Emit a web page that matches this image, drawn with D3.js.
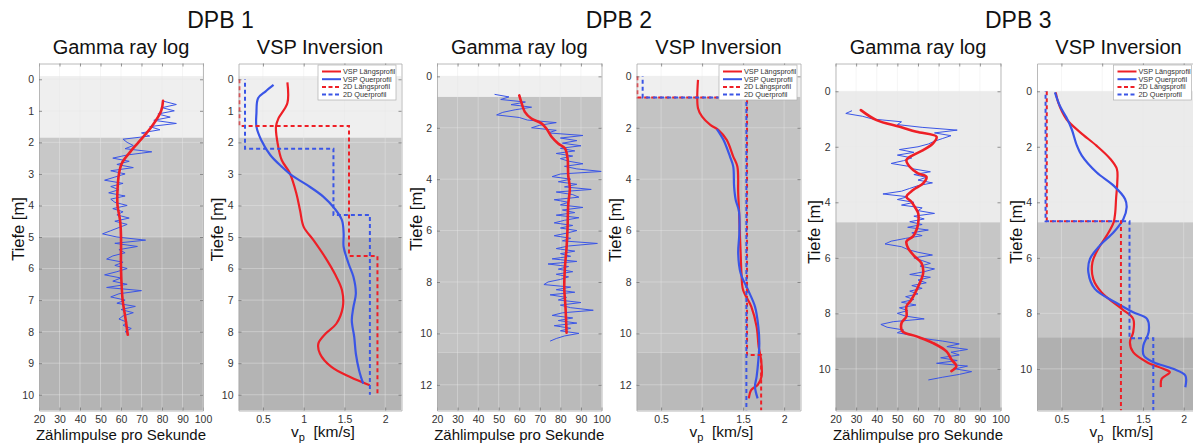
<!DOCTYPE html>
<html><head><meta charset="utf-8">
<script src="https://cdn.jsdelivr.net/npm/d3@7/dist/d3.min.js"></script>
<style>
html,body{margin:0;padding:0;background:#fff;}
svg{display:block;}
</style></head>
<body>
<svg id="chart" width="1193" height="443"></svg>
<script>
// ================= DATA =================
const wells = ["DPB 1", "DPB 2", "DPB 3"];
const panelTitles = ["Gamma ray log", "VSP Inversion"];
const gammaTicks = [20, 30, 40, 50, 60, 70, 80, 90, 100];
const vpTicks = [0.5, 1, 1.5, 2];
const depthTicks1 = [0, 1, 2, 3, 4, 5, 6, 7, 8, 9, 10];
const depthTicks2 = [0, 2, 4, 6, 8, 10, 12];
const depthTicks3 = [0, 2, 4, 6, 8, 10];
const legendLabels = ["VSP Längsprofil", "VSP Querprofil", "2D Längsprofil", "2D Querprofil"];
const gammaXLabel = "Zählimpulse pro Sekunde";
const depthLabel = "Tiefe [m]";

// layer boundaries (depth, m)
const layers1 = [-0.1, 1.85, 5.0, 10.5];
const layers2 = [0, 0.8, 10.75, 13];
const layers3 = [0, 4.72, 8.86, 11.5];

// gamma ray raw counts (blue), one sample every 0.1 m from the start depth
const gammaStart1 = 0.7;
const gammaRaw1 = [81,87,80,86,78,84,76,87,74,79,70,74,61,63,66,62,75,63,56,64,58,66,55,62,57,52,61,55,59,54,62,55,57,63,56,61,58,64,57,63,59,55,51,58,72,57,68,59,62,56,53,61,57,63,58,52,60,56,63,53,70,59,55,62,58,67,60,66,61,59,63,61,65,62,64];
const gammaStart2 = 0.7;
const gammaRaw2 = [48,55,51,63,56,66,58,52,49,60,64,78,70,66,78,74,91,80,88,81,90,80,87,78,86,80,84,91,82,88,100,80,76,85,79,88,82,95,78,86,89,77,84,80,91,81,87,78,89,82,77,86,80,88,83,77,85,81,98,84,78,87,80,85,76,88,74,84,79,86,78,84,80,74,72,85,78,87,75,83,79,90,80,85,96,81,76,86,79,88,77,85,80,89,82,78,75];
const gammaStart3 = 0.7;
const gammaRaw3 = [28,25,33,38,52,50,62,79,68,76,72,68,65,60,51,58,50,57,53,47,55,58,66,58,64,60,67,60,56,52,43,55,50,58,52,62,60,68,58,63,56,62,55,65,57,62,54,47,44,52,55,60,67,58,62,66,61,68,63,56,66,60,64,57,62,56,60,54,58,52,59,51,55,50,54,63,48,42,45,53,50,58,62,72,80,74,84,76,80,71,79,69,84,78,86,80,72,65];

// gamma ray smoothed (red): [depth, counts]
const gammaSmooth1 = [[0.68,80.5],[1.0,79.6],[1.5,75],[2.0,68.5],[2.3,64.5],[2.65,60.5],[3.0,59],[3.5,58.3],[4.0,58.3],[4.5,59.6],[5.0,60],[6.0,60],[7.0,60.8],[7.5,62],[8.1,63.3]];
const gammaSmooth2 = [[0.74,60],[1.0,61],[1.38,62.7],[1.64,65.9],[1.83,70.8],[2.03,73.2],[2.35,75.7],[2.61,78.9],[2.8,82.2],[3.19,83.5],[3.84,83.8],[4.35,84.6],[5.0,83.8],[5.9,83.5],[6.68,83],[7.45,82.2],[8.23,81.9],[9.0,82.5],[9.97,83]];
const gammaSmooth3 = [[0.68,32.3],[1.04,39.9],[1.28,51.2],[1.46,59.3],[1.64,69],[1.88,67.3],[2.12,62.5],[2.3,57.6],[2.48,54.4],[2.72,56],[2.96,60],[3.08,64.1],[3.32,62.5],[3.56,57.6],[3.8,54.4],[3.98,56.8],[4.16,58.4],[4.4,60.1],[4.75,60.1],[4.99,59.3],[5.23,57.6],[5.41,54.4],[5.65,55.2],[5.95,58.4],[6.19,61.7],[6.55,62.5],[7.03,60.1],[7.51,56.8],[7.75,54.4],[8.11,54.4],[8.35,52],[8.65,52.5],[8.83,59.3],[9.07,67.3],[9.37,73.8],[9.66,76.2],[9.9,78.6],[10.08,76.2]];

// VSP inversion: [depth, vp km/s]
const vspLaengs1 = [[0.1,0.80],[0.75,0.80],[1.24,0.69],[1.5,0.66],[2.03,0.68],[2.56,0.73],[2.98,0.83],[3.62,0.91],[4.15,0.955],[4.68,1.0],[5.1,1.12],[5.63,1.26],[6.16,1.38],[6.69,1.47],[7.22,1.48],[7.75,1.40],[8.06,1.27],[8.38,1.18],[8.7,1.20],[9.12,1.34],[9.44,1.57],[9.7,1.81]];
const vspQuer1 = [[0.18,0.63],[0.39,0.53],[0.6,0.44],[1.08,0.42],[1.5,0.42],[1.93,0.48],[2.4,0.59],[2.77,0.73],[3.04,0.85],[3.35,1.04],[3.72,1.24],[4.1,1.38],[4.47,1.47],[4.89,1.49],[5.31,1.49],[5.84,1.55],[6.26,1.61],[6.79,1.64],[7.22,1.61],[7.64,1.59],[8.17,1.62],[8.7,1.64],[9.23,1.68],[9.65,1.73]];
const vspLaengs2 = [[0.14,0.95],[1.24,0.95],[1.57,1.0],[1.89,1.1],[2.09,1.2],[2.47,1.3],[3.12,1.38],[3.51,1.43],[4.55,1.44],[5.2,1.45],[6.11,1.46],[6.88,1.47],[7.66,1.48],[8.31,1.5],[8.96,1.6],[9.74,1.665],[10.52,1.69],[11.04,1.72],[11.68,1.725],[12.0,1.68],[12.2,1.6],[12.53,1.57]];
const vspQuer2 = [[2.05,1.18],[2.47,1.26],[3.12,1.34],[3.51,1.38],[4.29,1.39],[4.81,1.41],[5.26,1.45],[6.11,1.454],[6.88,1.44],[7.66,1.47],[8.31,1.56],[8.96,1.645],[9.74,1.686],[10.38,1.698],[11.04,1.686],[11.68,1.665],[12.07,1.645],[12.53,1.677]];
const vspLaengs3 = [[0.04,0.43],[0.4,0.46],[1.0,0.56],[1.48,0.73],[1.96,0.93],[2.44,1.10],[2.8,1.18],[3.28,1.185],[3.88,1.17],[4.36,1.16],[4.72,1.14],[5.2,1.055],[5.68,0.95],[6.16,0.88],[6.76,0.89],[7.24,0.99],[7.84,1.24],[8.2,1.38],[8.68,1.38],[9.04,1.34],[9.4,1.38],[9.76,1.55],[10.0,1.75],[10.12,1.83],[10.36,1.73],[10.66,1.72]];
const vspQuer3 = [[0.04,0.42],[0.52,0.48],[0.94,0.56],[1.36,0.625],[1.96,0.69],[2.32,0.75],[2.92,0.93],[3.4,1.14],[3.88,1.28],[4.18,1.30],[4.6,1.26],[5.08,1.14],[5.56,0.97],[6.04,0.85],[6.52,0.83],[7.12,0.91],[7.6,1.16],[7.96,1.38],[8.2,1.55],[8.68,1.57],[9.16,1.505],[9.52,1.51],[9.76,1.63],[10.0,1.87],[10.24,2.02],[10.66,2.02]];

// 2D refraction profiles: layer velocities and layer boundaries (depth)
const d2LaengsV1 = [0.21, 1.556, 1.905];  const d2LaengsZ1 = [0, 1.48, 5.6, 10.05];
const d2QuerV1   = [0.28, 1.365, 1.812];  const d2QuerZ1   = [0, 2.2, 4.3, 10.0];
const d2LaengsV2 = [0.21, 1.548, 1.72];   const d2LaengsZ2 = [0, 0.82, 10.84, 13];
const d2QuerV2   = [0.275, 1.54];         const d2QuerZ2   = [0, 0.82, 13];
const d2LaengsV3 = [0.32, 1.23];          const d2LaengsZ3 = [0, 4.68, 11.5];
const d2QuerV3   = [0.305, 1.335, 1.627]; const d2QuerZ3   = [0, 4.68, 8.9, 11.5];

// ================= STYLE / LAYOUT =================
const FONT = '"Liberation Sans", Arial, Helvetica, sans-serif';
const RED = "#ee1f26", BLUE = "#3a55e6";
const TOP = 63.5, BOT = 410.5;
const svg = d3.select("#chart");
const defs = svg.append("defs");

function stepPoints(v, z) {
  const pts = [];
  v.forEach((vi, i) => { pts.push([z[i], vi]); pts.push([z[i + 1], vi]); });
  return pts;
}

function drawPanel(cfg, idx) {
  const x = d3.scaleLinear().domain(cfg.xDomain).range(cfg.xRange);
  const y = d3.scaleLinear().domain(cfg.yDomain).range([TOP, BOT]);
  const [x0, x1] = cfg.xRange;
  const clipId = "clip" + idx;
  defs.append("clipPath").attr("id", clipId).append("rect")
    .attr("x", x0).attr("y", TOP).attr("width", x1 - x0).attr("height", BOT - TOP);
  const g = svg.append("g");
  const pg = g.append("g").attr("clip-path", `url(#${clipId})`);
  pg.append("rect").attr("x", x0).attr("y", TOP).attr("width", x1 - x0).attr("height", BOT - TOP).attr("fill", "#fff");
  for (let i = 0; i < cfg.layers.length - 1; i++) {
    pg.append("rect").attr("x", x0).attr("width", x1 - x0)
      .attr("y", y(cfg.layers[i])).attr("height", y(cfg.layers[i + 1]) - y(cfg.layers[i]))
      .attr("fill", cfg.bandColors[i]);
  }
  // grid
  cfg.xTicks.forEach(v => pg.append("line").attr("x1", x(v)).attr("x2", x(v)).attr("y1", TOP).attr("y2", BOT)
    .attr("stroke", "#e8e8e8").attr("stroke-opacity", 0.55).attr("stroke-width", 0.8));
  cfg.yTicks.forEach(d => pg.append("line").attr("x1", x0).attr("x2", x1).attr("y1", y(d)).attr("y2", y(d))
    .attr("stroke", "#e8e8e8").attr("stroke-opacity", 0.55).attr("stroke-width", 0.8));

  const line = d3.line().x(p => x(p[1])).y(p => y(p[0]));
  const smooth = d3.line().x(p => x(p[1])).y(p => y(p[0])).curve(d3.curveCatmullRom.alpha(0.5));

  if (cfg.type === "gamma") {
    const raw = cfg.raw.map((v, i) => [cfg.rawStart + i * 0.1, v]);
    pg.append("path").attr("d", line(raw)).attr("fill", "none").attr("stroke", BLUE).attr("stroke-width", 1).attr("stroke-linejoin", "round");
    pg.append("path").attr("d", smooth(cfg.smooth)).attr("fill", "none").attr("stroke", RED).attr("stroke-width", 2.6).attr("stroke-linecap", "round");
  } else {
    pg.append("path").attr("d", smooth(cfg.laengs)).attr("fill", "none").attr("stroke", RED).attr("stroke-width", 2.2);
    pg.append("path").attr("d", smooth(cfg.quer)).attr("fill", "none").attr("stroke", BLUE).attr("stroke-width", 2.2);
    pg.append("path").attr("d", line(stepPoints(cfg.d2LV, cfg.d2LZ))).attr("fill", "none").attr("stroke", RED).attr("stroke-width", 2).attr("stroke-dasharray", "4,3");
    pg.append("path").attr("d", line(stepPoints(cfg.d2QV, cfg.d2QZ))).attr("fill", "none").attr("stroke", BLUE).attr("stroke-width", 2).attr("stroke-dasharray", "4,3").attr("stroke-dashoffset", 3.5);
  }

  // axes
  const fmt = d => String(d);
  const axB = g.append("g").attr("transform", `translate(0,${BOT})`)
    .call(d3.axisBottom(x).tickValues(cfg.xTicks).tickFormat(fmt).tickSize(-3).tickSizeOuter(0).tickPadding(5));
  const axT = g.append("g").attr("transform", `translate(0,${TOP})`)
    .call(d3.axisTop(x).tickValues(cfg.xTicks).tickFormat("").tickSize(-3).tickSizeOuter(0));
  const axL = g.append("g").attr("transform", `translate(${x0},0)`)
    .call(d3.axisLeft(y).tickValues(cfg.yTicks).tickFormat(fmt).tickSize(-3).tickSizeOuter(0).tickPadding(5));
  const axR = g.append("g").attr("transform", `translate(${x1},0)`)
    .call(d3.axisRight(y).tickValues(cfg.yTicks).tickFormat("").tickSize(-3).tickSizeOuter(0));
  [axB, axT, axL, axR].forEach(a => {
    a.select(".domain").attr("stroke", "#a8a8a8").attr("stroke-width", 0.8);
    a.selectAll(".tick line").attr("stroke", "#6a6a6a").attr("stroke-width", 0.7);
    a.selectAll("text").attr("font-family", FONT).attr("font-size", 10.5).attr("fill", "#333");
  });

  // titles & labels
  const cx = (x0 + x1) / 2;
  g.append("text").attr("x", cx).attr("y", 54).attr("text-anchor", "middle")
    .attr("font-family", FONT).attr("font-size", 20).attr("fill", "#111").text(cfg.title);
  g.append("text").attr("transform", `translate(${x0 - 21},${cfg.yLabelC}) rotate(-90)`)
    .attr("text-anchor", "middle").attr("dy", "0.35em")
    .attr("font-family", FONT).attr("font-size", 16.5).attr("fill", "#111").text(depthLabel);
  if (cfg.type === "gamma") {
    g.append("text").attr("x", cx).attr("y", 440).attr("text-anchor", "middle")
      .attr("font-family", FONT).attr("font-size", 15).attr("fill", "#111").text(gammaXLabel);
  } else {
    const t = g.append("text").attr("x", cx + 3).attr("y", 437).attr("text-anchor", "middle")
      .attr("font-family", FONT).attr("font-size", 15.5).attr("fill", "#111");
    t.append("tspan").text("v");
    t.append("tspan").attr("font-size", 11).attr("dy", 4).text("p");
    t.append("tspan").attr("dy", -4).text("  [km/s]").attr("xml:space", "preserve");
    // legend
    const lw = 78, lh = 35, lr = cfg.legendRight, lt = 65, ll = lr - lw;
    const lg = g.append("g");
    lg.append("rect").attr("x", ll).attr("y", lt).attr("width", lw).attr("height", lh)
      .attr("fill", "#fff").attr("stroke", "#b0b0b0").attr("stroke-width", 0.7);
    const styles = [[RED, null], [BLUE, null], [RED, "4,2.5"], [BLUE, "4,2.5"]];
    legendLabels.forEach((lab, i) => {
      const yy = lt + 6.5 + i * 7.7;
      const l = lg.append("line").attr("x1", ll + 4).attr("x2", ll + 23).attr("y1", yy).attr("y2", yy)
        .attr("stroke", styles[i][0]).attr("stroke-width", 2);
      if (styles[i][1]) l.attr("stroke-dasharray", styles[i][1]);
      lg.append("text").attr("x", ll + 25).attr("y", yy).attr("dy", "0.35em")
        .attr("font-family", FONT).attr("font-size", 7.3).attr("fill", "#333").text(lab);
    });
  }
}

const bandA = ["#efefef", "#c8c8c8", "#b4b4b4"];
const bandB = ["#efefef", "#c3c3c3", "#bababa"];
const bandC = ["#ebebeb", "#c6c6c6", "#b0b0b0"];

const panels = [
  {type: "gamma", title: panelTitles[0], xDomain: [20, 100], xRange: [39, 203], yDomain: [-0.5, 10.5],
   xTicks: gammaTicks, yTicks: depthTicks1, layers: layers1, bandColors: bandA, yLabelC: 229,
   raw: gammaRaw1, rawStart: gammaStart1, smooth: gammaSmooth1},
  {type: "vsp", title: panelTitles[1], xDomain: [0.2, 2.2], xRange: [238.5, 401.5], yDomain: [-0.5, 10.5],
   xTicks: vpTicks, yTicks: depthTicks1, layers: layers1, bandColors: bandA, yLabelC: 229.5, legendRight: 396,
   laengs: vspLaengs1, quer: vspQuer1, d2LV: d2LaengsV1, d2LZ: d2LaengsZ1, d2QV: d2QuerV1, d2QZ: d2QuerZ1},
  {type: "gamma", title: panelTitles[0], xDomain: [20, 100], xRange: [437, 601.5], yDomain: [-0.5, 13],
   xTicks: gammaTicks, yTicks: depthTicks2, layers: layers2, bandColors: bandB, yLabelC: 219,
   raw: gammaRaw2, rawStart: gammaStart2, smooth: gammaSmooth2},
  {type: "vsp", title: panelTitles[1], xDomain: [0.2, 2.2], xRange: [636.5, 800.5], yDomain: [-0.5, 13],
   xTicks: vpTicks, yTicks: depthTicks2, layers: layers2, bandColors: bandB, yLabelC: 230, legendRight: 797,
   laengs: vspLaengs2, quer: vspQuer2, d2LV: d2LaengsV2, d2LZ: d2LaengsZ2, d2QV: d2QuerV2, d2QZ: d2QuerZ2},
  {type: "gamma", title: panelTitles[0], xDomain: [20, 100], xRange: [835.5, 1000.5], yDomain: [-1, 11.5],
   xTicks: gammaTicks, yTicks: depthTicks3, layers: layers3, bandColors: bandC, yLabelC: 232,
   raw: gammaRaw3, rawStart: gammaStart3, smooth: gammaSmooth3},
  {type: "vsp", title: panelTitles[1], xDomain: [0.2, 2.2], xRange: [1037, 1200], yDomain: [-1, 11.5],
   xTicks: vpTicks, yTicks: depthTicks3, layers: layers3, bandColors: bandC, yLabelC: 232, legendRight: 1191.5,
   laengs: vspLaengs3, quer: vspQuer3, d2LV: d2LaengsV3, d2LZ: d2LaengsZ3, d2QV: d2QuerV3, d2QZ: d2QuerZ3}
];
panels.forEach((p, i) => drawPanel(p, i));

// well titles
wells.forEach((w, i) => {
  const a = panels[2 * i].xRange, b = panels[2 * i + 1].xRange;
  const c = ((a[0] + a[1]) / 2 + (b[0] + b[1]) / 2) / 2;
  svg.append("text").attr("x", c).attr("y", 28).attr("text-anchor", "middle")
    .attr("font-family", FONT).attr("font-size", 23).attr("fill", "#111").text(w);
});
</script>
</body></html>
